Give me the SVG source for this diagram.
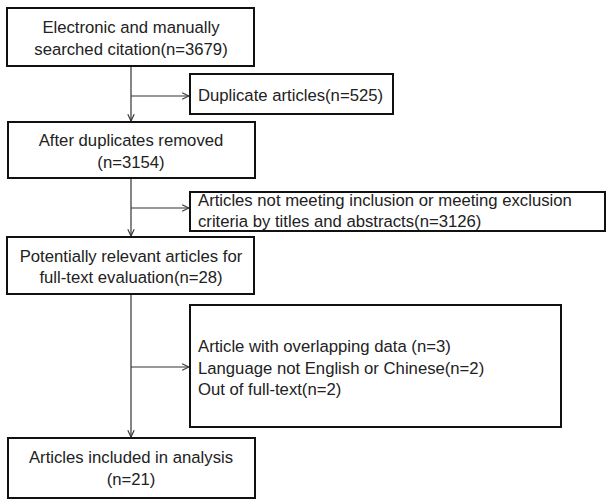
<svg xmlns="http://www.w3.org/2000/svg" width="607" height="501" viewBox="0 0 607 501">
<style>
.box{fill:#fff;stroke:#111;stroke-width:2}
.t{font-family:"Liberation Sans",Arial,sans-serif;font-size:16.7px;fill:#222}
.c{text-anchor:middle}
.ln{stroke:#333;stroke-width:1.2;fill:none}
</style>
<defs>
<marker id="ah" viewBox="0 0 10 10" refX="9.5" refY="5" markerWidth="8" markerHeight="8" markerUnits="userSpaceOnUse" orient="auto">
<path d="M1,1 L9.5,5 L1,9" fill="none" stroke="#333" stroke-width="1.4"/>
</marker>
</defs>
<rect width="607" height="501" fill="#fff"/>
<g id="connectors">
<line class="ln" x1="131" y1="66" x2="131" y2="121" marker-end="url(#ah)"/>
<line class="ln" x1="131" y1="96" x2="189" y2="96" marker-end="url(#ah)"/>
<line class="ln" x1="131" y1="178" x2="131" y2="236" marker-end="url(#ah)"/>
<line class="ln" x1="131" y1="208" x2="189" y2="208" marker-end="url(#ah)"/>
<line class="ln" x1="131" y1="294" x2="131" y2="437" marker-end="url(#ah)"/>
<line class="ln" x1="131" y1="367" x2="189" y2="367" marker-end="url(#ah)"/>
</g>
<g id="n1">
<rect class="box" x="7" y="8" width="247" height="58"/>
<text class="t c" x="131" y="33">Electronic and manually</text>
<text class="t c" x="131" y="55">searched citation(n=3679)</text>
</g>
<g id="n2">
<rect class="box" x="190" y="74" width="203" height="40"/>
<text class="t" x="198" y="101">Duplicate articles(n=525)</text>
</g>
<g id="n3">
<rect class="box" x="8" y="122" width="247" height="56"/>
<text class="t c" x="131" y="146">After duplicates removed</text>
<text class="t c" x="131" y="168">(n=3154)</text>
</g>
<g id="n4">
<rect class="box" x="190" y="192" width="415" height="39"/>
<text class="t" x="198" y="206">Articles not meeting inclusion or meeting exclusion</text>
<text class="t" x="198" y="227">criteria by titles and abstracts(n=3126)</text>
</g>
<g id="n5">
<rect class="box" x="7" y="237" width="247" height="57"/>
<text class="t c" x="131" y="262">Potentially relevant articles for</text>
<text class="t c" x="131" y="283">full-text evaluation(n=28)</text>
</g>
<g id="n6">
<rect class="box" x="190" y="305" width="371" height="122"/>
<text class="t" x="198" y="352">Article with overlapping data (n=3)</text>
<text class="t" x="198" y="374">Language not English or Chinese(n=2)</text>
<text class="t" x="198" y="395">Out of full-text(n=2)</text>
</g>
<g id="n7">
<rect class="box" x="8" y="438" width="247" height="60"/>
<text class="t c" x="131" y="463">Articles included in analysis</text>
<text class="t c" x="131" y="485">(n=21)</text>
</g>
</svg>
